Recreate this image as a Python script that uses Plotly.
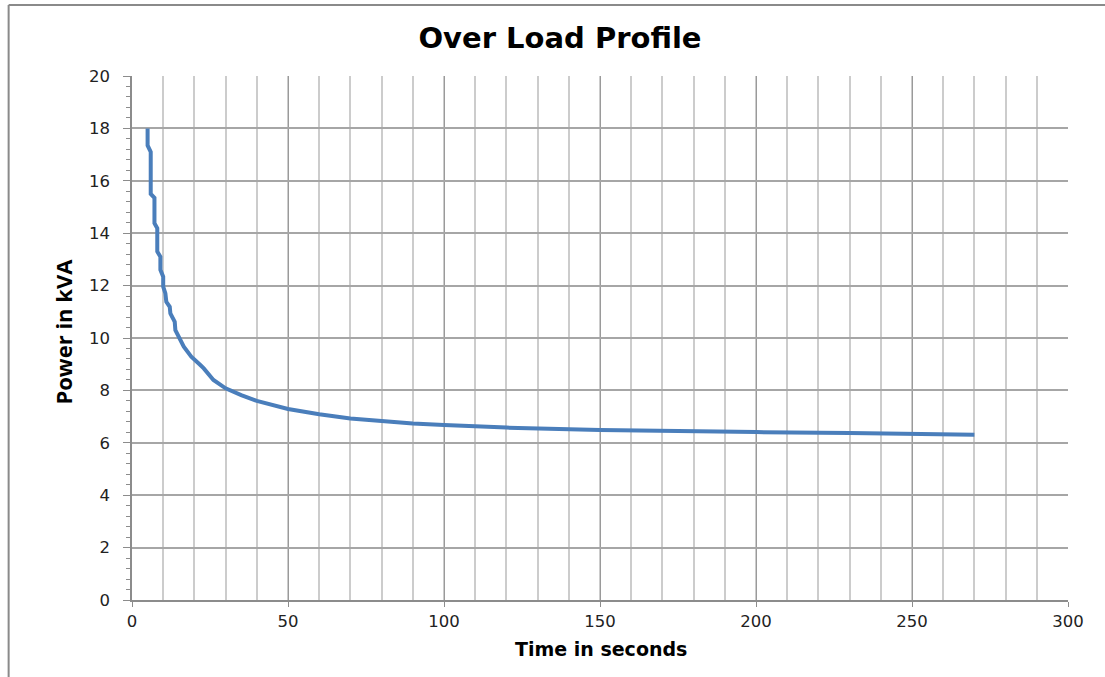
import plotly.graph_objects as go

time_s = [5, 5, 6, 6, 7.2, 7.2, 8.1, 8.1, 9.1, 9.1, 10, 10, 10.7, 11, 12.1, 12.3,
          13.7, 13.9, 16.6, 19, 21.9, 23, 26.1, 30, 35, 40, 50, 60, 70, 80, 90,
          100, 110, 120, 150, 170, 200, 230, 250, 270]
power_kva = [18, 17.35, 17.1, 15.5, 15.35, 14.38, 14.19, 13.3, 13.1, 12.6, 12.34, 11.96,
             11.7, 11.38, 11.19, 10.94, 10.62, 10.3, 9.67, 9.29, 8.97, 8.84, 8.4, 8.08,
             7.82, 7.6, 7.29, 7.09, 6.93, 6.83, 6.74, 6.68, 6.63, 6.58, 6.49, 6.45,
             6.41, 6.37, 6.35, 6.31]

x_ticks = [0, 50, 100, 150, 200, 250, 300]
y_ticks = [0, 2, 4, 6, 8, 10, 12, 14, 16, 18, 20]

W, H = 1105, 677
L, R, T, B = 131.5, 36.5, 76, 77

fig = go.Figure()
fig.add_trace(go.Scatter(
    x=time_s, y=power_kva, mode="lines",
    line=dict(color="#4a7ebb", width=4),
    hoverinfo="x+y", showlegend=False))

pw = W - L - R
ph = H - T - B

def px2paper_x(p):
    return (p - L) / pw

def px2paper_y(p):
    return (H - B - p) / ph

tickfont = dict(family="DejaVu Sans, sans-serif", size=16.5, color="#222222")

fig.update_layout(
    width=W, height=H,
    margin=dict(l=L, r=R, t=T, b=B, autoexpand=False),
    paper_bgcolor="white", plot_bgcolor="white",
    title=dict(text="<b>Over Load Profile</b>", x=560 / W, xanchor="center",
               y=1 - 38 / H, yanchor="middle", xref="container", yref="container",
               font=dict(family="DejaVu Sans, sans-serif", size=29, color="#000000")),
    xaxis=dict(range=[0, 300], tickvals=x_ticks, ticktext=[str(v) for v in x_ticks],
               showgrid=True, gridcolor="#9a9a9a", gridwidth=1,
               minor=dict(dtick=10, tick0=0, showgrid=True, gridcolor="#cccccc", gridwidth=1.5,
                          ticks=""),
               showline=True, linecolor="#8c8c8c", linewidth=1.5,
               ticks="outside", ticklen=5, tickcolor="#8c8c8c",
               zeroline=False, tickfont=tickfont, fixedrange=True),
    yaxis=dict(range=[0, 20], tickvals=y_ticks, ticktext=[str(v) for v in y_ticks],
               showgrid=True, gridcolor="#a6a6a6", gridwidth=1.5,
               minor=dict(dtick=0.4, tick0=0, showgrid=False, ticks="outside",
                          ticklen=4, tickcolor="#8c8c8c"),
               showline=True, linecolor="#8c8c8c", linewidth=1.5,
               ticks="outside", ticklen=7, tickcolor="#8c8c8c", ticklabelstandoff=10,
               zeroline=False, tickfont=tickfont, fixedrange=True),
    annotations=[
        dict(text="<b>Time in seconds</b>", xref="paper", yref="paper",
             x=px2paper_x(601), y=px2paper_y(649), xanchor="center", yanchor="middle",
             showarrow=False,
             font=dict(family="DejaVu Sans, sans-serif", size=19, color="#000000")),
        dict(text="<b>Power in kVA</b>", xref="paper", yref="paper",
             x=px2paper_x(62), y=px2paper_y(332), xanchor="center", yanchor="middle",
             textangle=-90, showarrow=False,
             font=dict(family="Liberation Sans Narrow, Open Sans, sans-serif", size=22, color="#000000")),
    ],
    shapes=[
        dict(type="line", xref="paper", yref="paper",
             x0=px2paper_x(8), x1=px2paper_x(8), y0=px2paper_y(690), y1=px2paper_y(5),
             line=dict(color="#8a8a8a", width=2)),
        dict(type="line", xref="paper", yref="paper",
             x0=px2paper_x(8), x1=px2paper_x(1120), y0=px2paper_y(5), y1=px2paper_y(5),
             line=dict(color="#8a8a8a", width=2)),
    ],
)

fig.write_html("out.html", config={"displayModeBar": False},
               post_script="document.body.style.margin='0px';")
